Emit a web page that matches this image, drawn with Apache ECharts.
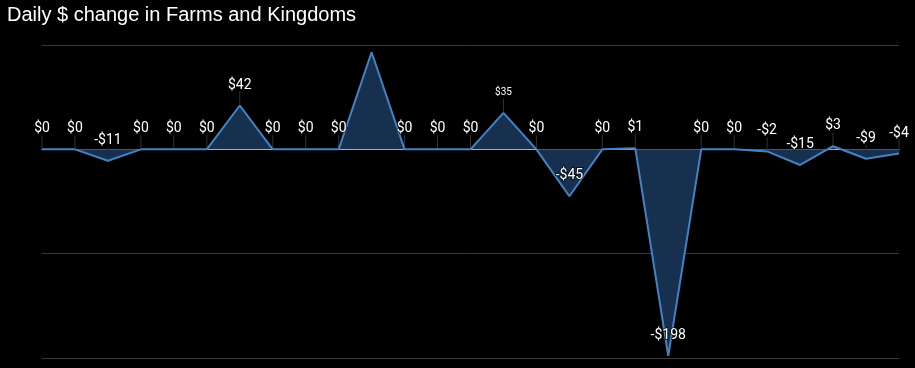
<!DOCTYPE html>
<html><head><meta charset="utf-8">
<script src="https://cdn.jsdelivr.net/npm/echarts@6/dist/echarts.min.js"></script>
<style>html,body{margin:0;padding:0;background:#000}#c{width:915px;height:368px}</style>
</head><body><div id="c"></div>
<script>
const titleText = "Daily $ change in Farms and Kingdoms";
const days = ["1","2","3","4","5","6","7","8","9","10","11","12","13","14","15","16","17","18","19","20","21","22","23","24","25","26","27"];
const values = [0,0,-11,0,0,0,42,0,0,0,93,0,0,0,35,0,-45,0,1,-198,0,0,-2,-15,3,-9,-4];
const hiddenLabels = [10];
const smallLabels = [14];
const yTicks = [-200,-100,0,100];

const fmt = v => (v < 0 ? "-$" + Math.abs(v) : "$" + v);

const chart = echarts.init(document.getElementById('c'));
const seriesData = values.map((v, i) => {
  const d = { value: v };
  if (hiddenLabels.includes(i)) d.label = { show: false };
  if (smallLabels.includes(i)) d.label = { fontSize: 10, distance: 15 };
  return d;
});
chart.setOption({
  backgroundColor: '#000',
  animation: false,
  title: { text: titleText, left: 2, top: 0, textStyle: { color: '#fff', fontSize: 20, fontWeight: 'normal', fontFamily: 'Liberation Sans, Arial, sans-serif' } },
  grid: { left: 42, right: 16, top: 45, bottom: 10, containLabel: false },
  xAxis: {
    type: 'category', data: days, boundaryGap: false,
    axisLine: { onZero: true, lineStyle: { color: '#d8d8d8', width: 1 } },
    axisTick: { show: false }, axisLabel: { show: false }, splitLine: { show: false }
  },
  yAxis: {
    type: 'value', min: yTicks[0], max: yTicks[yTicks.length - 1], interval: 100,
    axisLabel: { show: false }, axisLine: { show: false }, axisTick: { show: false },
    splitLine: { lineStyle: { color: '#3a3a3a', width: 1 } }
  },
  series: [
    {
      type: 'custom', z: 1,
      data: values.map((v, i) => [i, v]).filter(d => !hiddenLabels.includes(d[0])),
      renderItem: (params, api) => {
        const p = api.coord([api.value(0), api.value(1)]);
        return { type: 'line', shape: { x1: p[0], y1: p[1] - 1, x2: p[0], y2: p[1] - 14 }, style: { stroke: '#333', lineWidth: 1 } };
      },
      silent: true
    },
    {
      type: 'line', data: seriesData, z: 3,
      symbol: 'circle', symbolSize: 1, showSymbol: true,
      itemStyle: { color: 'rgba(0,0,0,0)' },
      lineStyle: { color: '#4283c4', width: 2 },
      areaStyle: { color: '#17304f', opacity: 1, origin: 0 },
      label: {
        show: true, position: 'top', distance: 13, color: '#fff', fontSize: 14,
        fontFamily: 'Roboto, sans-serif',
        textBorderColor: 'rgba(0,0,0,0.6)', textBorderWidth: 2,
        formatter: p => fmt(p.value)
      },
      labelLayout: { hideOverlap: false }
    }
  ]
});
</script></body></html>
